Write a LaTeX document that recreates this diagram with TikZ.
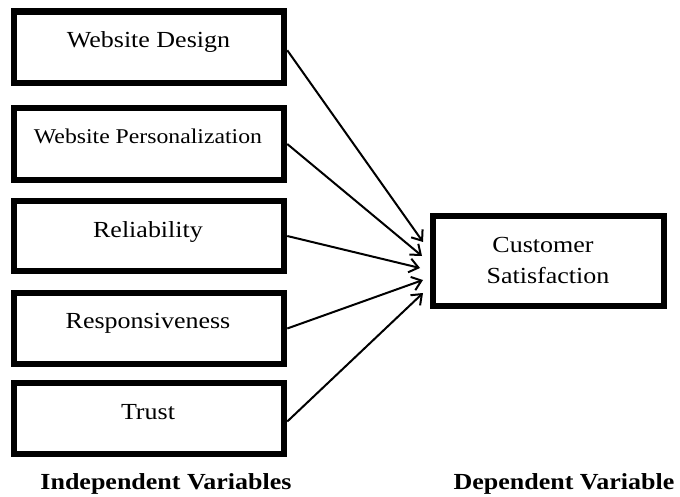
\documentclass[tikz,border=0pt]{standalone}
\usepackage{fontspec}
\setmainfont{Liberation Serif}
\usetikzlibrary{arrows.meta}
\newcommand{\sx}[1]{\scalebox{1.13}[1]{#1}}
\begin{document}
\begin{tikzpicture}[x=1pt,y=-1pt,
  ivbox/.style={draw, line width=6.5pt, minimum width=270pt, inner sep=0pt},
  dvbox/.style={draw, line width=6pt, minimum width=231pt, minimum height=90pt, inner sep=0pt},
  txt/.style={anchor=base, inner sep=0pt, font=\fontsize{23}{27}\selectfont},
  smalltxt/.style={anchor=base, inner sep=0pt, font=\fontsize{21}{25}\selectfont},
  head/.style={anchor=base, inner sep=0pt, font=\fontsize{23}{27}\selectfont\bfseries},
  link/.style={line width=2pt, -{Straight Barb[length=9pt,width=14pt]}}]
\useasboundingbox (0,0) rectangle (680,497);
\node[ivbox, minimum height=71.5pt] (b1) at (149,47.25) {};
\node[ivbox, minimum height=72pt] (b2) at (149,144) {};
\node[ivbox, minimum height=70pt] (b3) at (149,236) {};
\node[ivbox, minimum height=71pt] (b4) at (149,328.5) {};
\node[ivbox, minimum height=71pt] (b5) at (149,418.5) {};
\node[dvbox] (cs) at (548.5,261) {};
\node[txt] (l1) at (148.5,48) {\sx{Website Design}};
\node[smalltxt] (l2) at (148,144) {\sx{Website Personalization}};
\node[txt] (l3) at (148,237) {\sx{Reliability}};
\node[txt] (l4) at (148,328) {\sx{Responsiveness}};
\node[txt] (l5) at (148,419) {\sx{Trust}};
\node[txt] (lc1) at (543,252) {\sx{Customer}};
\node[txt] (lc2) at (548,283) {\sx{Satisfaction}};
\node[head] (h1) at (166,489) {\sx{Independent Variables}};
\node[head] (h2) at (564,489) {\sx{Dependent Variable}};
\coordinate (t1) at (423,242);
\coordinate (t2) at (422,256);
\coordinate (t3) at (420,268);
\coordinate (t4) at (423,280);
\coordinate (t5) at (423,293);
\draw[link] ([yshift=-3pt]b1.east) -- (t1);
\draw[link] (b2.east) -- (t2);
\draw[link] (b3.east) -- (t3);
\draw[link] (b4.east) -- (t4);
\draw[link] ([yshift=-3pt]b5.east) -- (t5);
\end{tikzpicture}
\end{document}
